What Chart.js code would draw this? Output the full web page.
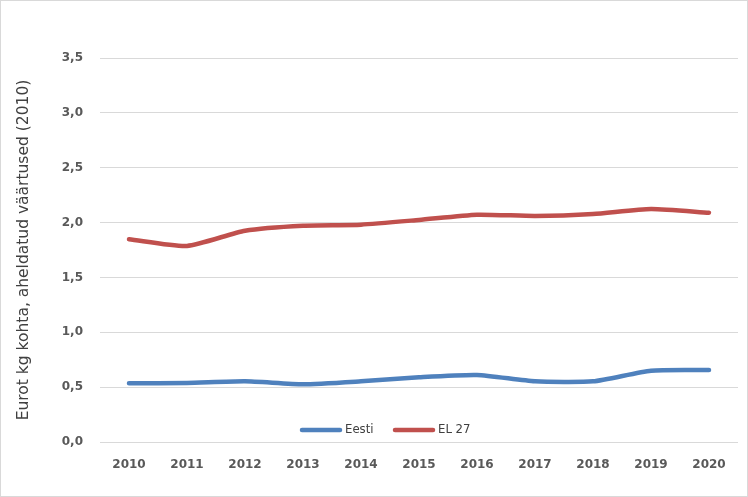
<!DOCTYPE html>
<html>
<head>
<meta charset="utf-8">
<script src="https://cdn.jsdelivr.net/npm/chart.js@4/dist/chart.umd.min.js"></script>
<style>
  html, body { margin: 0; padding: 0; background: #fff; }
  #wrap { width: 748px; height: 497px; }
</style>
</head>
<body>
<div id="wrap"><canvas id="my-chart" width="748" height="497"></canvas></div>
<script>
const years = ["2010", "2011", "2012", "2013", "2014", "2015", "2016", "2017", "2018", "2019", "2020"];
const eestiValues = [0.535, 0.538, 0.553, 0.526, 0.553, 0.59, 0.611, 0.553, 0.553, 0.65, 0.656];
const el27Values = [1.848, 1.787, 1.926, 1.972, 1.981, 2.024, 2.072, 2.06, 2.078, 2.124, 2.09];
const yTicks = [0, 0.5, 1.0, 1.5, 2.0, 2.5, 3.0, 3.5];
const yTitle = 'Eurot kg kohta, aheldatud väärtused (2010)';

const textColor = '#595959';

// white background + thin outer frame like the Excel chart box
const frame = {
  id: 'frame',
  beforeDraw(chart) {
    const c = chart.ctx;
    c.save();
    c.fillStyle = '#fff';
    c.fillRect(0, 0, chart.width, chart.height);
    c.strokeStyle = '#d9d9d9';
    c.lineWidth = 1;
    c.strokeRect(0.5, 0.5, chart.width - 1, chart.height - 1);
    c.restore();
  }
};

// legend sits inside the plot, just above the zero line
const innerLegend = {
  id: 'innerLegend',
  afterDraw(chart) {
    const c = chart.ctx;
    const y = chart.chartArea.bottom - 12;
    let x = 300;
    c.save();
    c.font = '13px "DejaVu Sans Condensed", "DejaVu Sans", sans-serif';
    c.textBaseline = 'middle';
    chart.data.datasets.forEach(ds => {
      c.strokeStyle = ds.borderColor;
      c.lineWidth = 4.5;
      c.lineCap = 'round';
      c.beginPath();
      c.moveTo(x + 2, y);
      c.lineTo(x + 40, y);
      c.stroke();
      c.fillStyle = '#404040';
      c.fillText(ds.label, x + 45, y);
      x += 93;
    });
    c.restore();
  }
};

const ctx = document.getElementById('my-chart').getContext('2d');
new Chart(ctx, {
  type: 'line',
  data: {
    labels: years,
    datasets: [{
      label: 'Eesti',
      data: eestiValues,
      borderColor: '#4F81BD',
      backgroundColor: '#4F81BD',
      borderWidth: 4.5,
      pointRadius: 0,
      tension: 0.2,
      borderCapStyle: 'round'
    }, {
      label: 'EL 27',
      data: el27Values,
      borderColor: '#C0504D',
      backgroundColor: '#C0504D',
      borderWidth: 4.5,
      pointRadius: 0,
      tension: 0.2,
      borderCapStyle: 'round'
    }]
  },
  options: {
    responsive: false,
    animation: false,
    devicePixelRatio: 1,
    layout: { padding: { top: 58, right: 10, bottom: 0, left: 0 } },
    plugins: {
      legend: { display: false },
      tooltip: { enabled: false }
    },
    scales: {
      x: {
        offset: true,
        grid: { display: false, drawTicks: false },
        border: { display: false },
        ticks: {
          padding: 16,
          color: textColor,
          font: { family: '"DejaVu Sans", sans-serif', size: 12, weight: 'bold' },
          maxRotation: 0
        },
        afterFit(scale) { scale.height = 55; }
      },
      y: {
        min: 0,
        max: 3.5,
        afterBuildTicks(scale) { scale.ticks = yTicks.map(v => ({ value: v })); },
        grid: { color: '#d9d9d9', lineWidth: 1, drawTicks: false },
        border: { display: false },
        ticks: {
          padding: 17,
          color: textColor,
          font: { family: '"DejaVu Sans", sans-serif', size: 12, weight: 'bold' },
          callback: v => v.toFixed(1).replace('.', ',')
        },
        title: {
          display: true,
          text: yTitle,
          color: '#404040',
          padding: { top: 15, bottom: 0 },
          font: { family: '"DejaVu Sans", sans-serif', size: 15.5 }
        },
        afterFit(scale) { scale.width = 100; }
      }
    }
  },
  plugins: [frame, innerLegend]
});
</script>
</body>
</html>
